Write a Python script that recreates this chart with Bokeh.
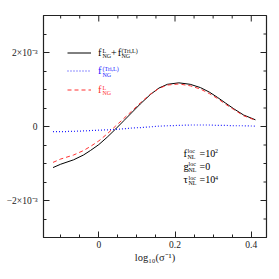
from bokeh.plotting import figure
from bokeh.models import Range1d, LinearAxis, FixedTicker, Label, Legend, LegendItem
from bokeh.embed import file_html
from bokeh.resources import INLINE

# ---------------- data (y in units of 1e-3) ----------------
log_sigma_inv = [-0.12, -0.10, -0.066, -0.04, -0.022, 0.0, 0.022, 0.044, 0.066, 0.088,
                 0.109, 0.136, 0.158, 0.18, 0.21, 0.24, 0.267, 0.29, 0.311, 0.333,
                 0.354, 0.38, 0.411]
total = [-1.11, -1.02, -0.90, -0.77, -0.65, -0.49, -0.29, -0.07, 0.16, 0.39,
         0.61, 0.87, 1.04, 1.14, 1.18, 1.14, 1.05, 0.93, 0.79, 0.63,
         0.48, 0.31, 0.18]
tri = [-0.14, -0.14, -0.13, -0.12, -0.11, -0.10, -0.09, -0.08, -0.06, -0.04,
       -0.03, -0.01, 0.01, 0.02, 0.03, 0.04, 0.04, 0.04, 0.03, 0.03,
       0.02, 0.02, 0.01]
fl = [-0.97, -0.88, -0.77, -0.65, -0.54, -0.39, -0.20, 0.01, 0.22, 0.43,
      0.64, 0.88, 1.03, 1.12, 1.15, 1.10, 1.01, 0.89, 0.76, 0.60,
      0.46, 0.29, 0.17]

x_major = [0.0, 0.2, 0.4]
x_minor = [-0.1, -0.05, 0.05, 0.1, 0.15, 0.25, 0.3, 0.35]
x_labels = {0.0: "0", 0.2: "0.2", 0.4: "0.4"}
y_major = [-2, 0, 2]
y_minor = [-2.5, -1.5, -1, -0.5, 0.5, 1, 1.5, 2.5]
y_labels = {-2: "\u22122\u00d710\u207b\u00b3", 0: "0", 2: "2\u00d710\u207b\u00b3"}
x_title = "log\u2081\u2080(\u03c3\u207b\u00b9)"

XMIN, XMAX, YMIN, YMAX = -0.145, 0.44, -3.0, 3.0
FONT = "Liberation Serif"
BLACK, BLUE, RED = "black", "#2020ff", "#ff3030"

W, H = 279, 279
FL, FT, FW, FH = 43, 15, 223, 222   # frame left/top/width/height in px

p = figure(width=W, height=H, output_backend="svg", toolbar_location=None,
           x_range=Range1d(XMIN, XMAX), y_range=Range1d(YMIN, YMAX),
           min_border_left=FL, min_border_top=FT,
           min_border_right=W - FL - FW, min_border_bottom=H - FT - FH,
           x_axis_location=None, y_axis_location=None)
p.grid.visible = False
p.outline_line_color = "#222222"
p.outline_line_width = 1.2
p.background_fill_color = "white"
p.border_fill_color = "white"

def style_axis(ax, major, minor, labels):
    ax.ticker = FixedTicker(ticks=major, minor_ticks=minor)
    ax.major_tick_in = 6
    ax.major_tick_out = 0
    ax.minor_tick_in = 3
    ax.minor_tick_out = 0
    ax.axis_line_color = "#222222"
    ax.major_tick_line_color = "#222222"
    ax.minor_tick_line_color = "#222222"
    ax.major_label_overrides = labels
    ax.major_label_text_font = FONT
    ax.major_label_text_font_size = "9.5px"
    ax.major_label_text_color = "#222222"

bx = LinearAxis(); style_axis(bx, x_major, x_minor, x_labels)
bx.major_label_standoff = 3
bx.axis_label = x_title
bx.axis_label_text_font = FONT
bx.axis_label_text_font_style = "normal"
bx.axis_label_text_font_size = "10.5px"
bx.axis_label_text_color = "#222222"
bx.axis_label_standoff = 1
p.add_layout(bx, "below")
ly = LinearAxis(); style_axis(ly, y_major, y_minor, y_labels)
ly.major_label_standoff = 6
ly.major_label_orientation = "horizontal"
p.add_layout(ly, "left")

# px -> data helpers (figure pixel coordinates)
def dx(px):
    return px / FW * (XMAX - XMIN)
def dy(px):
    return px / FH * (YMAX - YMIN)
def px2x(X):
    return XMIN + dx(X - FL)
def px2y(Y):
    return YMAX - dy(Y - FT)

# ticks on the top and right sides (mirroring the axes' tick positions)
for ticks, ln in ((x_major, 6), (x_minor, 3)):
    p.segment(x0=ticks, y0=[YMAX] * len(ticks), x1=ticks, y1=[YMAX - dy(ln)] * len(ticks),
              line_color="#222222", line_width=1)
for ticks, ln in ((y_major, 6), (y_minor, 3)):
    p.segment(x0=[XMAX] * len(ticks), y0=ticks, x1=[XMAX - dx(ln)] * len(ticks), y1=ticks,
              line_color="#222222", line_width=1)

r_tot = p.line(log_sigma_inv, total, line_color=BLACK, line_width=1)
r_tri = p.line(log_sigma_inv, tri, line_color=BLUE, line_width=1.2, line_dash="1 2")
r_fl = p.line(log_sigma_inv, fl, line_color=RED, line_width=1, line_dash="4 3")

# legend rows: centre y (px) of each row
ROWS = [52.0, 70.5, 89.0]
ROW_H = 15
for r, c, col in ((r_tot, ROWS[0], BLACK), (r_tri, ROWS[1], BLUE), (r_fl, ROWS[2], RED)):
    lg = Legend(items=[LegendItem(label="f", renderers=[r])],
                location=(67 - FL, (FT + FH) - (c + ROW_H / 2)),
                glyph_width=24, glyph_height=ROW_H, label_height=ROW_H,
                spacing=0, padding=0, margin=0, label_standoff=7,
                label_text_font=FONT, label_text_font_size="10.5px",
                label_text_color=col, border_line_alpha=0, background_fill_alpha=0)
    p.add_layout(lg)

def txt(X, Y, s, size, color, baseline="middle"):
    p.add_layout(Label(x=px2x(X), y=px2y(Y), text=s, text_font=FONT,
                       text_font_size=f"{size}px", text_color=color,
                       text_baseline=baseline, text_align="left"))

def scripts(X, c, sup, sub, color):
    if sup:
        txt(X, c - 1.8, sup, 6, color, "alphabetic")
    if sub:
        txt(X, c + 3.8, sub, 6, color, "alphabetic")

# legend label scripts
scripts(102.0, ROWS[0], "L", "NG", BLACK)
txt(110.5, ROWS[0], "+", 10, BLACK)
txt(117.3, ROWS[0], "f", 10.5, BLACK)
scripts(121.0, ROWS[0], "(Tri,L)", "NG", BLACK)
scripts(102.0, ROWS[1], "(Tri,L)", "NG", BLUE)
scripts(102.0, ROWS[2], "L", "NG", RED)

# parameter annotations
ANN = [152.7, 165.5, 178.8]
txt(183, ANN[0], "f", 10.5, BLACK)
scripts(187.0, ANN[0], "loc", "NL", BLACK)
txt(199, ANN[0], "=10", 10, BLACK)
scripts(214.5, ANN[0], "2", "", BLACK)
txt(183, ANN[1], "g", 10.5, BLACK)
scripts(188.0, ANN[1], "loc", "NL", BLACK)
txt(199, ANN[1], "=0", 10, BLACK)
txt(183, ANN[2], "\u03c4", 10.5, BLACK)
scripts(188.0, ANN[2], "loc", "NL", BLACK)
txt(199, ANN[2], "=10", 10, BLACK)
scripts(214.5, ANN[2], "4", "", BLACK)

open("out.html", "w").write(file_html(p, INLINE))
